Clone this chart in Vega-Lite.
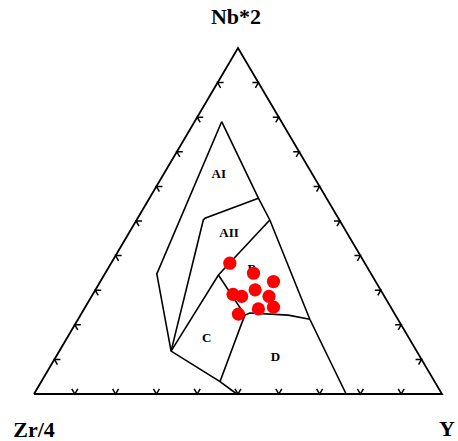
{
  "$schema": "https://vega.github.io/schema/vega-lite/v6.json",
  "width": 408,
  "height": 346,
  "autosize": {"type": "none"},
  "padding": {"left": 34, "top": 48, "right": 16, "bottom": 47},
  "background": "white",
  "config": {"view": {"stroke": null}},
  "datasets": {
    "frame": [
      {"x": 0, "y": 0, "o": 0},
      {"x": 50, "y": 100, "o": 1},
      {"x": 100, "y": 0, "o": 2},
      {"x": 0, "y": 0, "o": 3}
    ],
    "fields": [
      {"seg": "outer", "o": 0, "x": 46.0, "y": 78.7},
      {"seg": "outer", "o": 1, "x": 30.1, "y": 34.7},
      {"seg": "outer", "o": 2, "x": 33.6, "y": 12.4},
      {"seg": "outer", "o": 3, "x": 45.6, "y": 3.6},
      {"seg": "outer", "o": 4, "x": 49.7, "y": 0},
      {"seg": "right", "o": 0, "x": 46.0, "y": 78.7},
      {"seg": "right", "o": 1, "x": 55.0, "y": 56.6},
      {"seg": "right", "o": 2, "x": 57.8, "y": 50.3},
      {"seg": "right", "o": 3, "x": 67.6, "y": 21.6},
      {"seg": "right", "o": 4, "x": 76.5, "y": 0},
      {"seg": "a1a2", "o": 0, "x": 55.0, "y": 56.6},
      {"seg": "a1a2", "o": 1, "x": 41.9, "y": 50.8},
      {"seg": "a1a2", "o": 2, "x": 41.5, "y": 50.3},
      {"seg": "a1a2", "o": 3, "x": 33.6, "y": 12.4},
      {"seg": "a2b", "o": 0, "x": 57.8, "y": 50.3},
      {"seg": "a2b", "o": 1, "x": 45.2, "y": 34.4},
      {"seg": "a2b", "o": 2, "x": 33.6, "y": 12.4},
      {"seg": "bc", "o": 0, "x": 45.2, "y": 34.4},
      {"seg": "bc", "o": 1, "x": 51.7, "y": 22.8},
      {"seg": "bd", "o": 0, "x": 51.7, "y": 22.8},
      {"seg": "bd", "o": 1, "x": 52.9, "y": 23.4},
      {"seg": "bd", "o": 2, "x": 62.3, "y": 22.8},
      {"seg": "bd", "o": 3, "x": 67.6, "y": 21.6},
      {"seg": "cd", "o": 0, "x": 51.7, "y": 22.8},
      {"seg": "cd", "o": 1, "x": 50.9, "y": 20.4},
      {"seg": "cd", "o": 2, "x": 45.6, "y": 3.6}
    ],
    "ticks": [
      {"edge": "base", "x": 10, "y": 0}, {"edge": "base", "x": 20, "y": 0},
      {"edge": "base", "x": 30, "y": 0}, {"edge": "base", "x": 40, "y": 0},
      {"edge": "base", "x": 50, "y": 0}, {"edge": "base", "x": 60, "y": 0},
      {"edge": "base", "x": 70, "y": 0}, {"edge": "base", "x": 80, "y": 0},
      {"edge": "base", "x": 90, "y": 0},
      {"edge": "left", "x": 5, "y": 10}, {"edge": "left", "x": 10, "y": 20},
      {"edge": "left", "x": 15, "y": 30}, {"edge": "left", "x": 20, "y": 40},
      {"edge": "left", "x": 25, "y": 50}, {"edge": "left", "x": 30, "y": 60},
      {"edge": "left", "x": 35, "y": 70}, {"edge": "left", "x": 40, "y": 80},
      {"edge": "left", "x": 45, "y": 90},
      {"edge": "right", "x": 95, "y": 10}, {"edge": "right", "x": 90, "y": 20},
      {"edge": "right", "x": 85, "y": 30}, {"edge": "right", "x": 80, "y": 40},
      {"edge": "right", "x": 75, "y": 50}, {"edge": "right", "x": 70, "y": 60},
      {"edge": "right", "x": 65, "y": 70}, {"edge": "right", "x": 60, "y": 80},
      {"edge": "right", "x": 55, "y": 90}
    ],
    "samples": [
      {"x": 48.0, "y": 37.8}, {"x": 53.8, "y": 34.9}, {"x": 58.7, "y": 32.5},
      {"x": 54.2, "y": 30.1}, {"x": 48.8, "y": 28.8}, {"x": 50.9, "y": 28.2},
      {"x": 57.6, "y": 28.2}, {"x": 55.0, "y": 24.6}, {"x": 58.7, "y": 25.1},
      {"x": 50.1, "y": 23.1}
    ],
    "fieldLabels": [
      {"t": "AI", "x": 45.3, "y": 63.6},
      {"t": "AII", "x": 47.8, "y": 46.4},
      {"t": "B", "x": 53.4, "y": 36.0},
      {"t": "C", "x": 42.3, "y": 16.3},
      {"t": "D", "x": 59.2, "y": 10.8}
    ],
    "corners": [
      {"t": "Nb*2", "x": 49.5, "y": 106.9, "a": "center"},
      {"t": "Zr/4", "x": 0, "y": -12.3, "a": "center"},
      {"t": "Y", "x": 101.2, "y": -12.1, "a": "left"}
    ]
  },
  "layer": [
    {
      "data": {"name": "frame"},
      "mark": {"type": "line", "stroke": "black", "strokeWidth": 1.8, "interpolate": "linear"},
      "encoding": {
        "x": {"field": "x", "type": "quantitative", "scale": {"domain": [0, 100], "nice": false, "zero": false}, "axis": null},
        "y": {"field": "y", "type": "quantitative", "scale": {"domain": [0, 100], "nice": false, "zero": false}, "axis": null},
        "order": {"field": "o"}
      }
    },
    {
      "data": {"name": "fields"},
      "mark": {"type": "line", "stroke": "black", "strokeWidth": 1.6},
      "encoding": {
        "x": {"field": "x", "type": "quantitative", "axis": null},
        "y": {"field": "y", "type": "quantitative", "axis": null},
        "detail": {"field": "seg"},
        "order": {"field": "o"}
      }
    },
    {
      "data": {"name": "ticks"},
      "mark": {"type": "point", "filled": false, "stroke": "black", "strokeWidth": 1.5, "size": 144, "opacity": 1},
      "encoding": {
        "x": {"field": "x", "type": "quantitative", "axis": null},
        "y": {"field": "y", "type": "quantitative", "axis": null},
        "shape": {
          "field": "edge", "type": "nominal", "legend": null,
          "scale": {
            "domain": ["base", "left", "right"],
            "range": ["M -0.5 -0.866 L 0 0 L 0.5 -0.866", "M 1 0 L 0 0 L 0.5 0.866", "M -1 0 L 0 0 L -0.5 0.866"]
          }
        }
      }
    },
    {
      "data": {"name": "fieldLabels"},
      "mark": {"type": "text", "font": "Liberation Serif", "fontWeight": "bold", "fontSize": 13, "baseline": "middle", "align": "center", "color": "black"},
      "encoding": {
        "x": {"field": "x", "type": "quantitative", "axis": null},
        "y": {"field": "y", "type": "quantitative", "axis": null},
        "text": {"field": "t"}
      }
    },
    {
      "data": {"name": "samples"},
      "mark": {"type": "circle", "color": "#ff0000", "size": 175, "opacity": 1},
      "encoding": {
        "x": {"field": "x", "type": "quantitative", "axis": null},
        "y": {"field": "y", "type": "quantitative", "axis": null}
      }
    },
    {
      "data": {"name": "corners"},
      "mark": {"type": "text", "font": "Liberation Serif", "fontWeight": "bold", "fontSize": 22, "baseline": "alphabetic", "color": "black"},
      "encoding": {
        "x": {"field": "x", "type": "quantitative", "axis": null},
        "y": {"field": "y", "type": "quantitative", "axis": null},
        "text": {"field": "t"},
        "align": {"field": "a", "type": "nominal", "scale": null}
      }
    }
  ]
}
